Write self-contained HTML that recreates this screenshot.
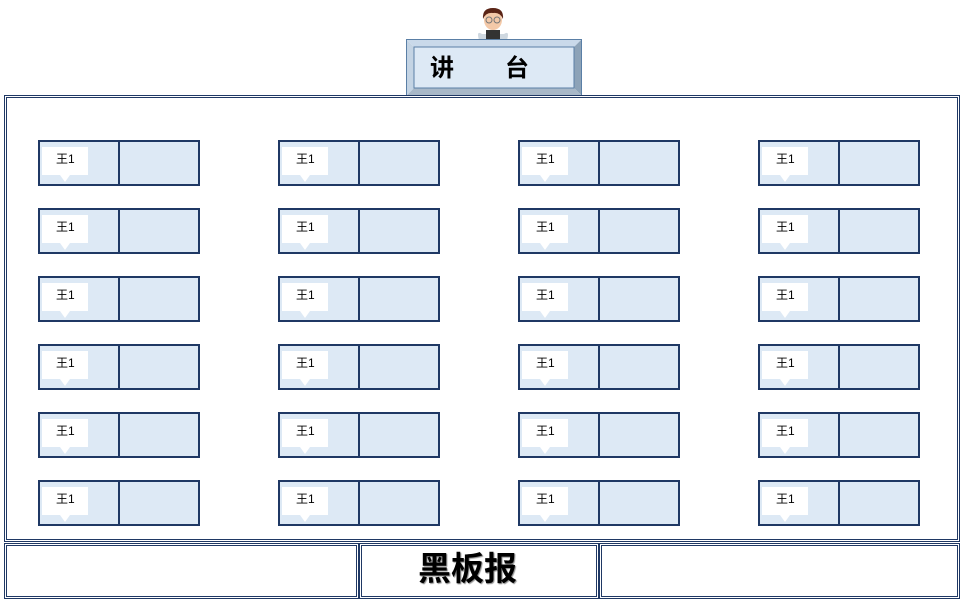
<!DOCTYPE html>
<html><head><meta charset="utf-8"><style>
body{margin:0;width:960px;height:601px;background:#fff;position:relative;overflow:hidden;font-family:"Liberation Sans","Noto Sans CJK SC",sans-serif}
.a{position:absolute;box-sizing:border-box}
.dbl{border:3px double #1f3864}
.desk{position:absolute;width:162px;height:46px;border:2px solid #1f3864;background:#dde9f5;box-sizing:border-box}
.desk:after{content:"";position:absolute;left:78px;top:0;bottom:0;border-left:2px solid #1f3864}
.bub{position:absolute;left:2px;top:5px;width:46px;height:28px;background:#fff;font-size:12px;line-height:24px;text-indent:14px;color:#000}
.bub:after{content:"";position:absolute;left:18px;bottom:-7px;border-left:5px solid transparent;border-right:5px solid transparent;border-top:7px solid #fff}
</style></head><body>
<svg class="a" style="left:472px;top:4px" width="42" height="38">
<path d="M10 30 Q4 26 7 36 L35 36 Q38 26 32 30 Z" fill="#cfd8e0"/>
<rect x="14" y="26" width="14" height="12" fill="#333"/>
<ellipse cx="21" cy="16" rx="9" ry="10" fill="#f4c9a8"/>
<path d="M11 15 Q10 4 21 4 Q32 4 31 15 Q28 8 21 9 Q14 8 11 15Z" fill="#5a2416"/>
<circle cx="17" cy="16" r="3" fill="none" stroke="#777"/><circle cx="25" cy="16" r="3" fill="none" stroke="#777"/>
</svg>
<svg class="a" style="left:406px;top:39px" width="176" height="57">
<polygon points="0,0 176,0 168,8 8,8" fill="#c9d9ea"/>
<polygon points="176,0 176,57 168,49 168,8" fill="#8da3b8"/>
<polygon points="0,57 176,57 168,49 8,49" fill="#a8b8c8"/>
<polygon points="0,0 8,8 8,49 0,57" fill="#c4d4e4"/>
<rect x="8" y="8" width="160" height="41" fill="#dde9f5" stroke="#5a7fa6"/>
<rect x="0.5" y="0.5" width="175" height="56" fill="none" stroke="#5a7fa6"/>
<text x="24" y="37" font-size="24" font-weight="bold" font-family="Liberation Sans,Noto Sans CJK SC,sans-serif">讲</text>
<text x="99" y="37" font-size="24" font-weight="bold" font-family="Liberation Sans,Noto Sans CJK SC,sans-serif">台</text>
</svg>
<div class="a dbl" style="left:4px;top:95px;width:956px;height:447px"></div>
<div class="a dbl" style="left:4px;top:543px;width:355px;height:56px"></div>
<div class="a dbl" style="left:359px;top:543px;width:240px;height:56px;padding-left:56px;font-size:33px;font-weight:bold;line-height:46px;text-shadow:1px 1px 1px #888">黑板报</div>
<div class="a dbl" style="left:599px;top:543px;width:361px;height:56px"></div>
<div id="d"></div>
<script>
var h='',xs=[38,278,518,758],ys=[140,208,276,344,412,480];
ys.forEach(function(y){xs.forEach(function(x){h+='<div class="desk" style="left:'+x+'px;top:'+y+'px"><div class="bub">王1</div></div>';});});
document.getElementById('d').innerHTML=h;
</script>
</body></html>
